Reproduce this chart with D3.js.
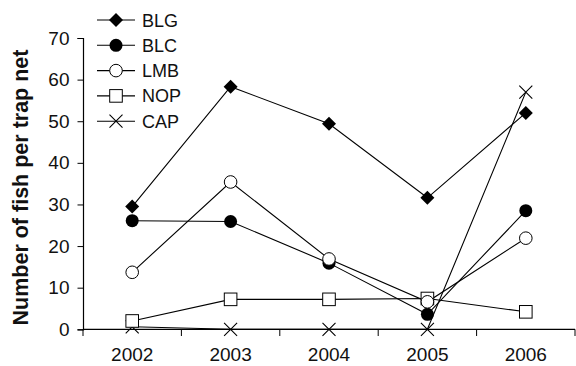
<!DOCTYPE html>
<html><head><meta charset="utf-8">
<script src="https://cdn.jsdelivr.net/npm/d3@7"></script>
<style>body{margin:0;background:#fff}svg{display:block}</style>
</head><body>
<script>
const years = ["2002","2003","2004","2005","2006"];
const yTicks = [0,10,20,30,40,50,60,70];
const BLG = [29.5,58.3,49.4,31.6,52.0];
const BLC = [26.1,25.9,15.9,3.6,28.5];
const LMB = [13.7,35.4,16.9,6.6,21.9];
const NOP = [2.0,7.2,7.2,7.4,4.2];
const CAP = [0.6,0,0,0,57.0];
const seriesNames = ["BLG","BLC","LMB","NOP","CAP"];
const seriesData = [BLG,BLC,LMB,NOP,CAP];
const markers = ["diamond","fcircle","ocircle","square","cross"];

const W=576,H=366;
const svg=d3.select("body").append("svg").attr("width",W).attr("height",H);
const font="Liberation Sans, Arial, sans-serif";
const x=d3.scaleBand().domain(years).range([83,575]);
const y=d3.scaleLinear().domain([0,70]).range([329.3,38]);

// axes
const yAxis=svg.append("g").attr("transform","translate(83,0)")
  .call(d3.axisLeft(y).tickValues(yTicks).tickSize(5.5).tickPadding(8));
const xAxis=svg.append("g").attr("transform","translate(0,329.3)")
  .call(d3.axisBottom(x).tickSize(0).tickPadding(18.5));
[yAxis,xAxis].forEach(a=>{
  a.select(".domain").attr("stroke","#000").attr("stroke-width",1.2);
  a.selectAll("text").attr("font-family",font).attr("font-size",19).attr("fill","#111");
  a.selectAll("line").attr("stroke","#000");
});
xAxis.select(".domain").attr("d","M83,0H575");
// x boundary ticks
const bounds=years.map(d=>x(d)).concat([x.range()[1]]);
svg.append("g").selectAll("line").data(bounds).join("line")
  .attr("x1",d=>d).attr("x2",d=>d).attr("y1",329.3).attr("y2",336)
  .attr("stroke","#000").attr("stroke-width",1);

svg.append("text").attr("transform","translate(28,187.5) rotate(-90)")
  .attr("text-anchor","middle").attr("font-family",font).attr("font-size",21.5)
  .attr("font-weight","bold").attr("fill","#111").text("Number of fish per trap net");

function drawMarker(g,type,cx,cy){
  if(type==="diamond") g.append("path").attr("d",`M${cx},${cy-7}L${cx+7},${cy}L${cx},${cy+7}L${cx-7},${cy}Z`).attr("fill","#000");
  else if(type==="fcircle") g.append("circle").attr("cx",cx).attr("cy",cy).attr("r",6.5).attr("fill","#000");
  else if(type==="ocircle") g.append("circle").attr("cx",cx).attr("cy",cy).attr("r",6.3).attr("fill","#fff").attr("stroke","#000").attr("stroke-width",1);
  else if(type==="square") g.append("rect").attr("x",cx-6.3).attr("y",cy-6.3).attr("width",12.6).attr("height",12.6).attr("fill","#fff").attr("stroke","#000").attr("stroke-width",1);
  else if(type==="cross") g.append("path").attr("d",`M${cx-6.5},${cy-6.5}L${cx+6.5},${cy+6.5}M${cx-6.5},${cy+6.5}L${cx+6.5},${cy-6.5}`).attr("stroke","#000").attr("stroke-width",1.1).attr("fill","none");
}
const cxs=d=>x(d)+x.bandwidth()/2;
const line=d3.line().x((d,i)=>cxs(years[i])).y(d=>y(d));
const order=[4,3,1,2,0];
order.forEach(k=>{
  svg.append("path").datum(seriesData[k]).attr("d",line).attr("fill","none").attr("stroke","#000").attr("stroke-width",1.1);
});
order.forEach(k=>{
  const g=svg.append("g");
  seriesData[k].forEach((v,i)=>drawMarker(g,markers[k],cxs(years[i]),y(v)));
});

// legend
const lg=svg.append("g");
seriesNames.forEach((n,i)=>{
  const ly=20+i*25.3;
  lg.append("line").attr("x1",97).attr("x2",135).attr("y1",ly).attr("y2",ly).attr("stroke","#000").attr("stroke-width",1.1);
  drawMarker(lg,markers[i],116,ly);
  lg.append("text").attr("x",142).attr("y",ly+6.5).attr("font-family",font).attr("font-size",18).attr("fill","#111").text(n);
});
</script>
</body></html>
